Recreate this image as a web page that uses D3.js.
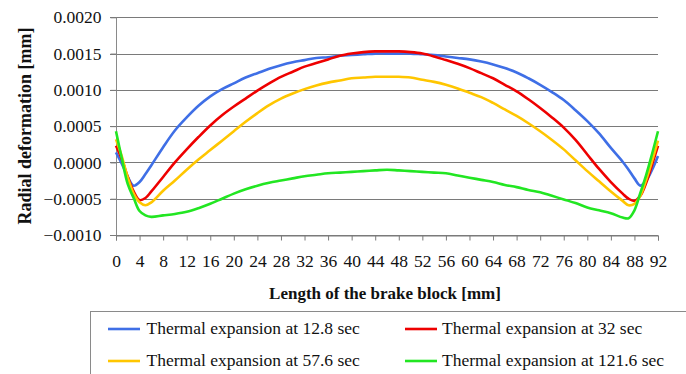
<!DOCTYPE html>
<html>
<head>
<meta charset="utf-8">
<script src="https://cdn.jsdelivr.net/npm/d3@7"></script>
<style>
  html, body { margin: 0; padding: 0; background: #fff; }
  svg { display: block; }
  svg text { font-family: "Liberation Serif", "Times New Roman", Times, "DejaVu Serif", serif; }
</style>
</head>
<body>
<svg id="chart" width="686" height="374"></svg>
<script>
// ---- data ----
const positions = [0,1,2,3,4,5,6,8,10,12,14,16,18,20,22,24,26,28,30,32,34,36,38,40,42,44,46,48,50,52,54,56,58,60,62,64,66,68,70,72,74,76,78,80,82,84,86,87,88,89,90,91,92];

const seriesNames = [
  "Thermal expansion at 12.8 sec",
  "Thermal expansion at 32 sec",
  "Thermal expansion at 57.6 sec",
  "Thermal expansion at 121.6 sec"
];

const blueValues = [0.00014,-0.00002,-0.0002,-0.00032,-0.00027,-0.00016,-0.00004,
  0.00021,0.00044,0.00062,0.00078,0.00091,0.00101,0.00109,0.00117,0.00123,0.00129,0.00134,0.00138,0.00141,0.00144,0.00145,0.00147,0.00148,0.00149,0.0015,0.0015,0.0015,0.0015,0.00149,0.00148,0.00146,0.00144,0.00142,0.00139,0.00135,0.0013,0.00124,0.00116,0.00107,0.00097,0.00086,0.00072,0.00057,0.0004,0.0002,
  0.00001,-0.0001,-0.00022,-0.00032,-0.00025,-0.0001,0.00009];

const redValues = [0.00023,0.00004,-0.0002,-0.0004,-0.00052,-0.00049,-0.0004,
  -0.0002,0.0,0.00018,0.00035,0.00051,0.00065,0.00077,0.00088,0.00099,0.00109,0.00118,0.00125,0.00132,0.00137,0.00142,0.00147,0.0015,0.00152,0.00153,0.00153,0.00153,0.00152,0.0015,0.00146,0.00141,0.00136,0.0013,0.00123,0.00116,0.00107,0.00098,0.00087,0.00075,0.00062,0.00048,0.00031,0.00011,-0.00009,-0.00027,
  -0.00043,-0.0005,-0.00053,-0.00046,-0.00028,-0.00003,0.00023];

const yellowValues = [0.00032,0.00008,-0.00021,-0.00043,-0.00055,-0.00059,-0.00055,
  -0.00039,-0.00025,-0.0001,0.00004,0.00017,0.0003,0.00043,0.00056,0.00068,0.00079,0.00088,0.00095,0.00101,0.00106,0.0011,0.00113,0.00116,0.00117,0.00118,0.00118,0.00118,0.00117,0.00114,0.00111,0.00107,0.00102,0.00096,0.0009,0.00082,0.00073,0.00064,0.00054,0.00043,0.00031,0.00018,0.00003,-0.00012,-0.00026,-0.0004,
  -0.00053,-0.00059,-0.00057,-0.00046,-0.00024,0.00002,0.0003];

const greenValues = [0.00043,0.00005,-0.0003,-0.00049,-0.00067,-0.00073,-0.00075,
  -0.00073,-0.00071,-0.00068,-0.00063,-0.00057,-0.0005,-0.00043,-0.00037,-0.00032,-0.00028,-0.00025,-0.00022,-0.00019,-0.00017,-0.00015,-0.00014,-0.00013,-0.00012,-0.00011,-0.0001,-0.00011,-0.00012,-0.00013,-0.00014,-0.00015,-0.00018,-0.00021,-0.00024,-0.00027,-0.00031,-0.00034,-0.00038,-0.00041,-0.00046,-0.00051,-0.00056,-0.00062,-0.00066,-0.0007,
  -0.00076,-0.00077,-0.00066,-0.00042,-0.00017,0.00012,0.00043];

const xTicks = [0,4,8,12,16,20,24,28,32,36,40,44,48,52,56,60,64,68,72,76,80,84,88,92];
const yTicks = [-0.001,-0.0005,0,0.0005,0.001,0.0015,0.002];
const colors = ["#3f6fe6", "#ee0000", "#ffc600", "#22e622"];

// ---- chart ----
const svg = d3.select("#chart");
const font = "Liberation Serif, Times New Roman, Times, DejaVu Serif, serif";

const x = d3.scaleLinear().domain([0, 92]).range([116, 658]);
const y = d3.scaleLinear().domain([-0.001, 0.002]).range([235, 17.3]);

// grid lines
svg.append("g")
  .selectAll("line")
  .data(yTicks)
  .join("line")
  .attr("x1", x(0) - 6).attr("x2", x(92))
  .attr("y1", d => Math.round(y(d)) + 0.5).attr("y2", d => Math.round(y(d)) + 0.5)
  .attr("stroke", "#7a7a7a").attr("stroke-width", 1);

// y axis
const yAxis = svg.append("g")
  .attr("transform", `translate(${Math.round(x(0)) + 0.5},0)`)
  .call(d3.axisLeft(y).tickValues(yTicks).tickFormat(d3.format(".4f")).tickSize(6).tickPadding(9));
yAxis.attr("font-family", null);
yAxis.select(".domain").attr("stroke", "#8a8a8a").attr("d", `M0,${y(0.002)}V${y(-0.001) + 5}`);
yAxis.selectAll(".tick line").attr("stroke", "#7a7a7a");
yAxis.selectAll("text").style("font-family", font).attr("font-size", 17.5).attr("fill", "#111");

// x axis
const xAxis = svg.append("g")
  .attr("transform", `translate(0,${Math.round(y(-0.001)) + 0.5})`)
  .call(d3.axisBottom(x).tickValues(xTicks).tickFormat(d3.format("d")).tickSize(5).tickPadding(14));
xAxis.attr("font-family", null);
xAxis.select(".domain").attr("stroke", "#7a7a7a");
xAxis.selectAll(".tick line").attr("stroke", "#7a7a7a");
xAxis.selectAll("text").style("font-family", font).attr("font-size", 17.5).attr("fill", "#111");

// series lines
const series = [blueValues, redValues, yellowValues, greenValues];
const line = d3.line()
  .x((d, i) => x(positions[i]))
  .y(d => y(d))
  .curve(d3.curveCatmullRom.alpha(0.5));

svg.append("g")
  .selectAll("path")
  .data(series)
  .join("path")
  .attr("d", d => line(d))
  .attr("fill", "none")
  .attr("stroke", (d, i) => colors[i])
  .attr("stroke-width", 2.6)
  .attr("stroke-linejoin", "round");

// axis titles
svg.append("text")
  .attr("x", 385).attr("y", 299)
  .attr("text-anchor", "middle")
  .style("font-family", font).attr("font-weight", "bold").attr("font-size", 17)
  .attr("fill", "#111")
  .text("Length of the brake block [mm]");

svg.append("text")
  .attr("transform", "translate(31,126) rotate(-90)")
  .attr("text-anchor", "middle")
  .style("font-family", font).attr("font-weight", "bold").attr("font-size", 18)
  .attr("fill", "#111")
  .text("Radial deformation [mm]");

// legend
svg.append("rect")
  .attr("x", 90.5).attr("y", 311.5).attr("width", 700).attr("height", 100)
  .attr("fill", "#fff").attr("stroke", "#8a8a8a").attr("stroke-width", 1);

const legendPos = [
  {lx: 108, ly: 329, tx: 146.5, ty: 334},
  {lx: 405, ly: 329, tx: 442, ty: 334},
  {lx: 108, ly: 361, tx: 146.5, ty: 366},
  {lx: 405, ly: 361, tx: 442, ty: 366}
];

const leg = svg.append("g").selectAll("g")
  .data(seriesNames)
  .join("g");
leg.append("line")
  .attr("x1", (d, i) => legendPos[i].lx).attr("x2", (d, i) => legendPos[i].lx + 32)
  .attr("y1", (d, i) => legendPos[i].ly).attr("y2", (d, i) => legendPos[i].ly)
  .attr("stroke", (d, i) => colors[i]).attr("stroke-width", 2.6);
leg.append("text")
  .attr("x", (d, i) => legendPos[i].tx).attr("y", (d, i) => legendPos[i].ty)
  .style("font-family", font).attr("font-size", 17.5).attr("fill", "#111")
  .text(d => d);
</script>
</body>
</html>
